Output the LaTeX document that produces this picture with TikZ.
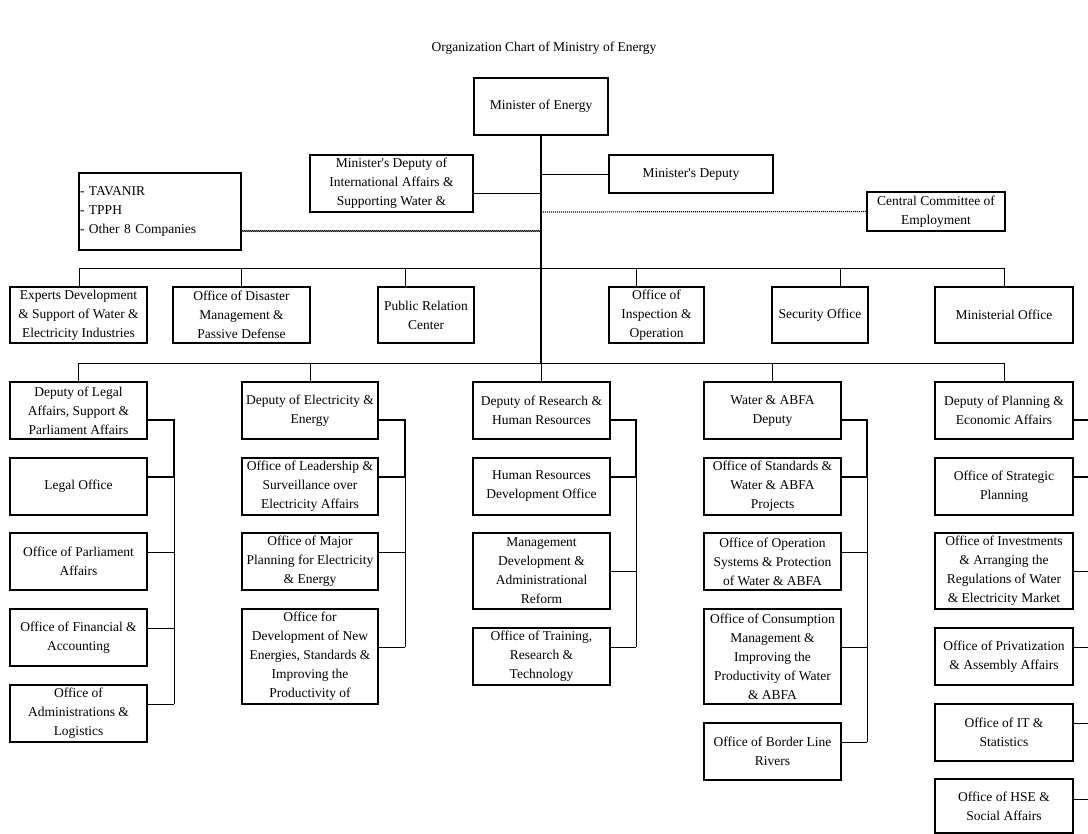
\documentclass[tikz,border=0pt]{standalone}
\usepackage{fontspec}
\setmainfont{Liberation Serif}
\usetikzlibrary{decorations.pathmorphing}
\tikzset{
  box/.style={draw, line width=1.2pt, inner sep=0pt, align=center, font=\fontsize{13.5}{19}\selectfont},
  conn/.style={line width=0.9pt},
  tconn/.style={line width=1.6pt},
  wavy/.style={line width=0.7pt, decorate, decoration={snake, amplitude=0.6pt, segment length=2pt}},
  dotline/.style={line width=1.2pt, dash pattern=on 1pt off 1pt},
}
\newcommand{\obox}[6]{\node[box, minimum width={(#4-#2)*1pt}, minimum height={(#5-#3)*1pt}] (#1) at ({(#2+#4)/2},{(#3+#5)/2}) {#6};}
\newcommand{\ap}{\textquotesingle}
\begin{document}
\begin{tikzpicture}[x=1pt,y=-1pt]
\useasboundingbox (0,0) rectangle (1088,834);
\node[font=\fontsize{13.5}{19}\selectfont] (title) at (544,48) {Organization Chart of Ministry of Energy};

% top level
\obox{min}{474}{78}{608}{135}{Minister of Energy}
\obox{intl}{310}{155}{473}{212}{Minister\ap s Deputy of\\International Affairs \&\\Supporting Water \&}
\obox{dep}{609}{155}{773}{193}{Minister\ap s Deputy}
\node[box, align=left, text width=160pt, inner xsep=1pt, minimum height=77pt] (comp) at (160,211.5) {- TAVANIR\\- TPPH\\- Other 8 Companies};
\obox{cce}{867}{192}{1005}{231}{Central Committee of\\Employment}

% offices row
\obox{o1}{10}{287}{147}{343}{Experts Development\\\& Support of Water \&\\Electricity Industries}
\obox{o2}{173}{287}{310}{343}{Office of Disaster\\Management \&\\Passive Defense}
\obox{o3}{378}{287}{474}{343}{Public Relation\\Center}
\obox{o4}{609}{287}{704}{343}{Office of\\Inspection \&\\Operation}
\obox{o5}{772}{287}{868}{343}{Security Office}
\obox{o6}{935}{287}{1073}{343}{Ministerial Office}

% column 1
\obox{dl}{10}{382}{147}{439}{Deputy of Legal\\Affairs, Support \&\\Parliament Affairs}
\obox{lo}{10}{458}{147}{515}{Legal Office}
\obox{pa}{10}{533}{147}{590}{Office of Parliament\\Affairs}
\obox{fa}{10}{609}{147}{666}{Office of Financial \&\\Accounting}
\obox{ad}{10}{685}{147}{742}{Office of\\Administrations \&\\Logistics}

% column 2
\obox{de}{242}{382}{378}{439}{Deputy of Electricity \&\\Energy}
\obox{le}{242}{458}{378}{515}{Office of Leadership \&\\Surveillance over\\Electricity Affairs}
\obox{mp}{242}{533}{378}{590}{Office of Major\\Planning for Electricity\\\& Energy}
\obox{ne}{242}{609}{378}{704}{Office for\\Development of New\\Energies, Standards \&\\Improving the\\Productivity of}

% column 3
\obox{dr}{473}{382}{610}{439}{Deputy of Research \&\\Human Resources}
\obox{hr}{473}{458}{610}{515}{Human Resources\\Development Office}
\obox{md}{473}{533}{610}{609}{Management\\Development \&\\Administrational\\Reform}
\obox{tr}{473}{628}{610}{685}{Office of Training,\\Research \&\\Technology}

% column 4
\obox{wd}{704}{382}{841}{439}{Water \& ABFA\\Deputy}
\obox{st}{704}{458}{841}{515}{Office of Standards \&\\Water \& ABFA\\Projects}
\obox{op}{704}{533}{841}{590}{Office of Operation\\Systems \& Protection\\of Water \& ABFA}
\obox{co}{704}{609}{841}{704}{Office of Consumption\\Management \&\\Improving the\\Productivity of Water\\\& ABFA}
\obox{br}{704}{723}{841}{780}{Office of Border Line\\Rivers}

% column 5
\obox{dp}{935}{382}{1073}{439}{Deputy of Planning \&\\Economic Affairs}
\obox{sp}{935}{458}{1073}{515}{Office of Strategic\\Planning}
\obox{iv}{935}{533}{1073}{609}{Office of Investments\\\& Arranging the\\Regulations of Water\\\& Electricity Market}
\obox{pr}{935}{628}{1073}{685}{Office of Privatization\\\& Assembly Affairs}
\obox{it}{935}{704}{1073}{761}{Office of IT \&\\Statistics}
\obox{hs}{935}{779}{1073}{833}{Office of HSE \&\\Social Affairs}

% coordinates
\coordinate (bA) at (541,268);
\coordinate (bAL) at (79,268);
\coordinate (bAR) at (1004,268);
\coordinate (bB) at (541,363);
\coordinate (bBL) at (79,363);
\coordinate (bBR) at (1004,363);
\coordinate (d3) at (405,268);
\coordinate (d4) at (636,268);
\coordinate (d5) at (840,268);
\coordinate (c1) at (541,193);
\coordinate (wv) at (541,231);
\coordinate (dt) at (541,212);
\coordinate (rE) at (1088,0);

% main trunk
\draw[line width=1.3pt] (min.south) -- (min.south |- bB);
\draw[conn] (intl.east |- c1) -- (c1);
\draw[conn] (dep.west) -- (dep.west -| min.south);
\draw[wavy] (comp.east |- wv) -- (wv);
\draw[dotline] (dt) -- (cce.west);

% offices bus
\draw[conn] (bAL) -- (bAR);
\draw[conn] (bAL) -- (o1.north -| bAL);
\draw[conn] (o2.north |- bA) -- (o2.north);
\draw[conn] (d3) -- (o3.north -| d3);
\draw[conn] (d4) -- (o4.north -| d4);
\draw[conn] (d5) -- (o5.north -| d5);
\draw[conn] (bAR) -- (o6.north -| bAR);

% deputies bus
\draw[conn] (bBL) -- (bBR);
\foreach \n in {dl,de,dr,wd,dp} \draw[conn] (\n.north |- bB) -- (\n.north);

% column spines
\draw[tconn] (dl.east |- 0,420) -- (174,420) -- (174,477) -- (lo.east |- 0,477);
\draw[conn] (174,477) -- (174,704);
\foreach \n/\y in {pa/552,fa/628,ad/704} \draw[conn] (\n.east |- 0,\y) -- (174,\y);

\draw[tconn] (de.east |- 0,420) -- (405,420) -- (405,477) -- (le.east |- 0,477);
\draw[conn] (405,477) -- (405,647);
\foreach \n/\y in {mp/552,ne/647} \draw[conn] (\n.east |- 0,\y) -- (405,\y);

\draw[tconn] (dr.east |- 0,420) -- (636,420) -- (636,477) -- (hr.east |- 0,477);
\draw[conn] (636,477) -- (636,647);
\foreach \n/\y in {md/571,tr/647} \draw[conn] (\n.east |- 0,\y) -- (636,\y);

\draw[tconn] (wd.east |- 0,420) -- (867,420) -- (867,477) -- (st.east |- 0,477);
\draw[conn] (867,477) -- (867,742);
\foreach \n/\y in {op/552,co/647,br/742} \draw[conn] (\n.east |- 0,\y) -- (867,\y);

\foreach \n/\y in {dp/420,sp/477} \draw[tconn] (\n.east |- 0,\y) -- (rE |- 0,\y);
\foreach \n/\y in {iv/571,pr/647,it/723,hs/799} \draw[conn] (\n.east |- 0,\y) -- (rE |- 0,\y);
\end{tikzpicture}
\end{document}
